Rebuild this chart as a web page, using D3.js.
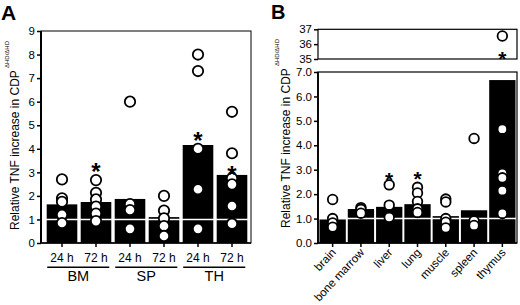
<!DOCTYPE html>
<html>
<head>
<meta charset="UTF-8">
<title></title>
<script src="https://cdn.jsdelivr.net/npm/d3@7"></script>
<style>
  body { margin: 0; background: #fff; }
  text { font-family: "Liberation Sans", Arial, sans-serif; fill: #000; }
</style>
</head>
<body>
<script>
// panel A
var catsA = ["24 h", "72 h", "24 h", "72 h", "24 h", "72 h"];
var groupsA = ["BM", "SP", "TH"];
var barsA = [1.64, 1.74, 1.87, 1.10, 4.16, 2.89];
var dotsA = [
    [2.7, 1.9, 1.75, 1.2, 0.85],
    [2.67, 2.13, 1.85, 1.55, 1.25, 0.93],
    [6.0, 1.65, 1.4, 0.6],
    [2.0, 1.38, 1.05, 0.72, 0.3],
    [8.0, 7.3, 4.0, 2.28, 0.6],
    [5.57, 3.81, 2.75, 2.49, 1.57, 0.82]
];
var starsA = [null, 3.27, null, null, 4.58, 3.14];
var ticksA = [0, 1, 2, 3, 4, 5, 6, 7, 8, 9];

// panel B
var catsB = ["brain", "bone marrow", "liver", "lung", "muscle", "spleen", "thymus"];
var barsB = [0.97, 1.39, 1.48, 1.59, 1.10, 1.34, 6.67];
var dotsB = [
    [1.78, 1.0, 0.82, 0.65],
    [1.45, 1.38, 1.22],
    [2.38, 1.55, 1.05],
    [2.28, 2.05, 1.7, 1.4, 1.25],
    [1.8, 1.68, 1.0, 0.85, 0.62],
    [4.28, 0.9, 0.72],
    [36.55, 4.66, 2.85, 2.67, 2.14, 1.21]
];
var starsB = [null, null, 2.78, 2.85, null, null, 35.33];
var ticksBlow = [0, 1, 2, 3, 4, 5, 6, 7];
var ticksBup = [35, 36, 37];

var svg = d3.select("body").append("svg")
    .attr("width", 520).attr("height", 305);

function yTitle(x, y) {
    svg.append("text")
        .attr("transform", "translate(" + x + "," + y + ") rotate(-90)")
        .style("font-size", "12px")
        .text("Relative TNF increase in CDP");
    svg.append("text")
        .attr("transform", "translate(" + (x - 10.5) + "," + (y - 162) + ") rotate(-90)")
        .style("font-size", "6px")
        .text("\u0394HD/\u0394HD");
}

function star(g, x, y, size) {
    g.append("text")
        .attr("x", x).attr("y", y)
        .attr("dy", "0.58em")
        .attr("text-anchor", "middle")
        .style("font-size", size + "px")
        .style("font-weight", "bold")
        .text("*");
}

// ---------- A ----------
var xA = d3.scaleBand().domain(d3.range(catsA.length))
    .range([45, 249]).paddingInner(0.1).paddingOuter(0.05);
var yA = d3.scaleLinear().domain([0, 9]).range([243, 31]);
var gA = svg.append("g");

gA.append("text").attr("x", 1).attr("y", 20)
    .style("font-size", "21px").style("font-weight", "bold").text("A");

gA.selectAll("rect.bar").data(barsA).enter().append("rect")
    .attr("class", "bar")
    .attr("x", function(d, i) { return xA(i); })
    .attr("y", function(d) { return yA(d); })
    .attr("width", xA.bandwidth())
    .attr("height", function(d) { return yA(0) - yA(d); })
    .attr("fill", "#000");

gA.append("line").attr("x1", 41).attr("x2", 251)
    .attr("y1", yA(1)).attr("y2", yA(1))
    .attr("stroke", "#fff").attr("stroke-width", 1.5);

dotsA.forEach(function(arr, i) {
    gA.selectAll(null).data(arr).enter().append("circle")
        .attr("cx", xA(i) + xA.bandwidth() / 2)
        .attr("cy", function(d) { return yA(d); })
        .attr("r", 5.2)
        .attr("fill", "#fff").attr("stroke", "#000").attr("stroke-width", 1.8);
    if (starsA[i] != null) star(gA, xA(i) + xA.bandwidth() / 2, yA(starsA[i]), 24);
});

// frame
gA.append("rect").attr("x", 41).attr("y", 31).attr("width", 210).attr("height", 212)
    .attr("fill", "none").attr("stroke", "#000").attr("stroke-width", 1);
gA.append("line").attr("x1", 41).attr("x2", 41).attr("y1", 31).attr("y2", 243)
    .attr("stroke", "#000").attr("stroke-width", 2);
gA.append("line").attr("x1", 41).attr("x2", 251).attr("y1", 243).attr("y2", 243)
    .attr("stroke", "#000").attr("stroke-width", 1.6);

var axA = gA.append("g").attr("transform", "translate(41,0)")
    .call(d3.axisLeft(yA).tickValues(ticksA).tickSize(4).tickPadding(2));
axA.select(".domain").remove();
axA.selectAll("line").attr("stroke-width", 1.5);
axA.selectAll("text").style("font-size", "11.5px")
    .style("font-family", "'Liberation Sans', Arial, sans-serif");

// x tick marks and labels
catsA.forEach(function(c, i) {
    var cx = xA(i) + xA.bandwidth() / 2;
    gA.append("line").attr("x1", cx).attr("x2", cx).attr("y1", 243).attr("y2", 247)
        .attr("stroke", "#000").attr("stroke-width", 1.5);
    gA.append("text").attr("x", cx).attr("y", 261.5).attr("text-anchor", "middle")
        .style("font-size", "12px").text(c);
});
groupsA.forEach(function(g, k) {
    var x0 = xA(2 * k) + 0.5, x1 = xA(2 * k + 1) + xA.bandwidth() - 2;
    gA.append("line").attr("x1", x0).attr("x2", x1).attr("y1", 267.3).attr("y2", 267.3)
        .attr("stroke", "#000").attr("stroke-width", 1.5);
    gA.append("text").attr("x", (x0 + x1) / 2).attr("y", 281).attr("text-anchor", "middle")
        .style("font-size", "14.5px").text(g);
});

yTitle(19, 230);

// ---------- B ----------
var xB = d3.scaleBand().domain(d3.range(catsB.length))
    .range([318.5, 516.5]).paddingInner(0.07).paddingOuter(0.035);
var yB = d3.scaleLinear().domain([0, 7]).range([243, 72]);
var yBu = d3.scaleLinear().domain([35, 37]).range([59, 29.3]);
var gB = svg.append("g");

gB.append("text").attr("x", 271).attr("y", 19)
    .style("font-size", "20px").style("font-weight", "bold").text("B");

gB.selectAll("rect.bar").data(barsB).enter().append("rect")
    .attr("class", "bar")
    .attr("x", function(d, i) { return xB(i); })
    .attr("y", function(d) { return yB(d); })
    .attr("width", xB.bandwidth())
    .attr("height", function(d) { return yB(0) - yB(d); })
    .attr("fill", "#000");

gB.append("line").attr("x1", 318).attr("x2", 517)
    .attr("y1", yB(1)).attr("y2", yB(1))
    .attr("stroke", "#fff").attr("stroke-width", 1.5);

dotsB.forEach(function(arr, i) {
    gB.selectAll(null).data(arr).enter().append("circle")
        .attr("cx", xB(i) + xB.bandwidth() / 2)
        .attr("cy", function(d) { return d > 7 ? yBu(d) : yB(d); })
        .attr("r", 4.8)
        .attr("fill", "#fff").attr("stroke", "#000").attr("stroke-width", 1.8);
    if (starsB[i] != null) {
        var sy = starsB[i] > 7 ? yBu(starsB[i]) : yB(starsB[i]);
        star(gB, xB(i) + xB.bandwidth() / 2, sy, 21);
    }
});

// frames
gB.append("rect").attr("x", 318).attr("y", 29.3).attr("width", 199).attr("height", 29.7)
    .attr("fill", "none").attr("stroke", "#000").attr("stroke-width", 1.2);
gB.append("rect").attr("x", 318).attr("y", 72).attr("width", 199).attr("height", 171)
    .attr("fill", "none").attr("stroke", "#000").attr("stroke-width", 1.2);
gB.append("line").attr("x1", 318).attr("x2", 318).attr("y1", 72).attr("y2", 243)
    .attr("stroke", "#000").attr("stroke-width", 1.8);
gB.append("line").attr("x1", 318).attr("x2", 517).attr("y1", 243).attr("y2", 243)
    .attr("stroke", "#000").attr("stroke-width", 1.6);

var axB = gB.append("g").attr("transform", "translate(318,0)")
    .call(d3.axisLeft(yB).tickValues(ticksBlow).tickSize(4).tickPadding(2));
var axBu = gB.append("g").attr("transform", "translate(318,0)")
    .call(d3.axisLeft(yBu).tickValues(ticksBup).tickFormat(d3.format("d"))
        .tickSize(4).tickPadding(2));
[axB, axBu].forEach(function(a) {
    a.select(".domain").remove();
    a.selectAll("line").attr("stroke-width", 1.5);
    a.selectAll("text").style("font-size", "11.5px")
        .style("font-family", "'Liberation Sans', Arial, sans-serif");
});

catsB.forEach(function(c, i) {
    var cx = xB(i) + xB.bandwidth() / 2;
    gB.append("line").attr("x1", cx).attr("x2", cx).attr("y1", 243).attr("y2", 247)
        .attr("stroke", "#000").attr("stroke-width", 1.5);
    gB.append("text")
        .attr("transform", "translate(" + (cx + 4) + ",253) rotate(-47)")
        .attr("text-anchor", "end")
        .style("font-size", "11.5px").text(c);
});

yTitle(289.5, 228);
</script>
</body>
</html>
